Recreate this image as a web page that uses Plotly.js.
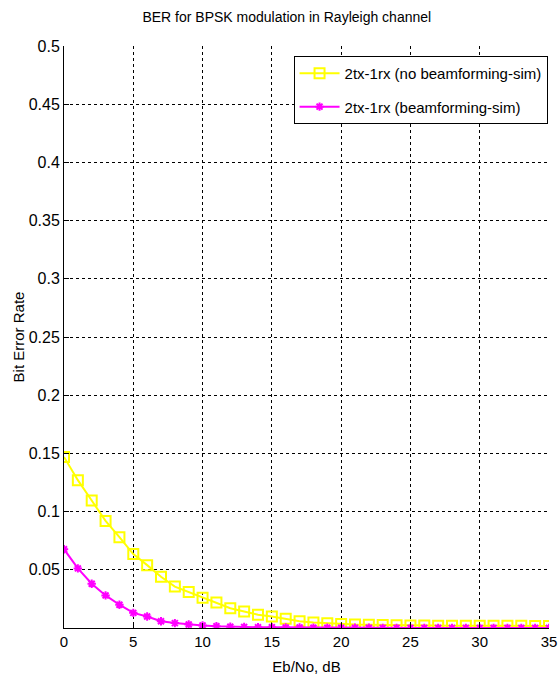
<!DOCTYPE html>
<html>
<head>
<meta charset="utf-8">
<script src="https://cdn.plot.ly/plotly-3.0.1.min.js"></script>
<style>html,body{margin:0;padding:0;background:#fff;}#chart{width:558px;height:686px;}</style>
</head>
<body>
<div id="chart"></div>
<script>
var ebno = [0,1,2,3,4,5,6,7,8,9,10,11,12,13,14,15,16,17,18,19,20,21,22,23,24,25,26,27,28,29,30,31,32,33,34,35];
var berNoBeamforming = [0.147,0.127,0.1095,0.092,0.078,0.0635,0.054,0.044,0.0356,0.031,0.026,0.022,0.017,0.0142,0.0114,0.0099,0.008,0.0058,0.0048,0.004,0.0035,0.003,0.0027,0.0025,0.0023,0.0022,0.0021,0.002,0.002,0.002,0.0019,0.0019,0.0019,0.0019,0.0018,0.0018];
var berBeamforming = [0.0677,0.0512,0.038,0.028,0.02,0.013,0.0099,0.0058,0.0042,0.003,0.0022,0.0015,0.0011,0.0009,0.0007,0.0006,0.0005,0.0004,0.0003,0.0003,0.0002,0.0002,0.0002,0.0001,0.0001,0.0001,0.0001,0.0001,0.0001,0.0001,0.0001,0.0001,0.0001,0.0001,0.0001,0.0001];
var seriesNames = ['2tx-1rx (no beamforming-sim)', '2tx-1rx (beamforming-sim)'];
var yTickVals = [0.05,0.1,0.15,0.2,0.25,0.3,0.35,0.4,0.45,0.5];
var yTickText = ['0.05','0.1','0.15','0.2','0.25','0.3','0.35','0.4','0.45','0.5'];
var xTickVals = [0,5,10,15,20,25,30,35];

var FONT = '"Liberation Sans Narrow", "Arial Narrow", "Liberation Sans", Arial, sans-serif';

var traces = [
  {x: ebno, y: berNoBeamforming, name: seriesNames[0], type: 'scatter', mode: 'lines+markers', legendgroup: 'a',
   line: {color: '#ffff00', width: 2},
   marker: {symbol: 'square-open', size: 10, color: '#ffff00', line: {color: '#ffff00', width: 2}}},
  {x: ebno, y: berBeamforming, name: seriesNames[1], type: 'scatter', mode: 'lines+markers', legendgroup: 'b',
   line: {color: '#ff00ff', width: 2},
   marker: {symbol: 'asterisk-open', size: 7, color: '#ff00ff', line: {color: '#ff00ff', width: 2}}}
];

var layout = {
  width: 558, height: 686,
  margin: {l: 64, r: 9, t: 46, b: 58},
  paper_bgcolor: '#fff', plot_bgcolor: '#fff',
  font: {family: FONT, size: 16, color: '#000'},
  title: {text: 'BER for BPSK modulation in Rayleigh channel', font: {family: FONT, size: 14, color: '#000'},
          xref: 'container', x: 0.514, xanchor: 'center', yref: 'container', y: 0.975, yanchor: 'middle'},
  showlegend: true,
  legend: {x: 0.997, y: 0.983, xanchor: 'right', yanchor: 'top', bgcolor: '#fff',
           bordercolor: '#000', borderwidth: 1, font: {family: FONT, size: 15, color: '#000'},
           tracegroupgap: 11, itemwidth: 40},
  xaxis: {range: [0, 35], tickvals: xTickVals, ticks: 'inside', ticklen: 5, tickcolor: '#000',
          showline: true, linecolor: '#000', linewidth: 1, mirror: false, zeroline: false,
          showgrid: true, gridcolor: '#000', gridwidth: 1, griddash: '3px,3px',
          ticklabeloverflow: 'allow',
          tickfont: {family: FONT, size: 15, color: '#000'},
          title: {text: 'Eb/No, dB', font: {family: FONT, size: 15, color: '#000'}, standoff: 12}},
  yaxis: {range: [0, 0.5], tickvals: yTickVals, ticktext: yTickText, ticks: 'inside', ticklen: 5, tickcolor: '#000',
          showline: true, linecolor: '#000', linewidth: 1, mirror: false, zeroline: false,
          showgrid: true, gridcolor: '#000', gridwidth: 1, griddash: '3px,3px',
          tickfont: {family: FONT, size: 16, color: '#000'},
          title: {text: 'Bit Error Rate', font: {family: FONT, size: 15, color: '#000'}, standoff: 0}},
  xaxis2: {overlaying: 'x', side: 'top', anchor: 'y', range: [0, 35], tickvals: xTickVals, ticks: 'inside', ticklen: 5,
           tickcolor: '#000', showticklabels: false, showgrid: false, zeroline: false, showline: false},
  yaxis2: {overlaying: 'y', side: 'right', anchor: 'x', range: [0, 0.5], tickvals: yTickVals, ticks: 'inside', ticklen: 5,
           tickcolor: '#000', showticklabels: false, showgrid: false, zeroline: false, showline: false}
};

Plotly.newPlot('chart', traces, layout, {displayModeBar: false, staticPlot: true});
</script>
</body>
</html>
